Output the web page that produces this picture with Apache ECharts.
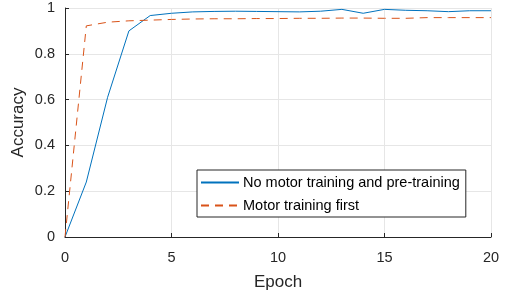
<!DOCTYPE html>
<html>
<head>
<meta charset="utf-8">
<script src="https://cdn.jsdelivr.net/npm/echarts@6/dist/echarts.min.js"></script>
<style>
  html, body { margin: 0; padding: 0; background: #fff; }
  #chart { width: 508px; height: 297px; }
</style>
</head>
<body>
<div id="chart"></div>
<script>
const epochs = [0, 1, 2, 3, 4, 5, 6, 7, 8, 9, 10, 11, 12, 13, 14, 15, 16, 17, 18, 19, 20];
const noMotor = [0, 0.24, 0.61, 0.90, 0.967, 0.977, 0.983, 0.985, 0.986, 0.985, 0.984, 0.983, 0.986, 0.994, 0.977, 0.994, 0.99, 0.988, 0.984, 0.988, 0.988];
const motorFirst = [0, 0.922, 0.938, 0.944, 0.947, 0.95, 0.952, 0.953, 0.953, 0.954, 0.954, 0.955, 0.955, 0.956, 0.956, 0.955, 0.955, 0.958, 0.958, 0.958, 0.958];
const xTicks = [0, 5, 10, 15, 20];
const yTicks = [0, 0.2, 0.4, 0.6, 0.8, 1];

const chart = echarts.init(document.getElementById('chart'));
const font = 'Liberation Sans, Arial, sans-serif';

chart.setOption({
  animation: false,
  grid: { left: 65, right: 17, top: 8, bottom: 60 },
  xAxis: {
    type: 'value', min: 0, max: 20, interval: 5,
    name: 'Epoch', nameLocation: 'middle', nameGap: 37,
    nameTextStyle: { color: '#262626', fontSize: 17, fontFamily: font },
    axisLine: { show: true, onZero: false, lineStyle: { color: '#262626', width: 1 } },
    axisTick: { show: true, inside: true, length: 4, lineStyle: { color: '#262626' } },
    axisLabel: { color: '#262626', fontSize: 14.5, fontFamily: font, margin: 13,
      formatter: v => xTicks.includes(v) ? String(v) : '' },
    splitLine: { show: true, lineStyle: { color: '#e6e6e6', width: 1 } }
  },
  yAxis: {
    type: 'value', min: 0, max: 1, interval: 0.2,
    name: 'Accuracy', nameLocation: 'middle', nameGap: 38, nameMoveOverlap: false,
    nameTextStyle: { color: '#262626', fontSize: 17, fontFamily: font },
    axisLine: { show: true, lineStyle: { color: '#262626', width: 1 } },
    axisTick: { show: true, inside: true, length: 4, lineStyle: { color: '#262626' } },
    axisLabel: { color: '#262626', fontSize: 14.5, fontFamily: font, margin: 10,
      formatter: v => {
        const t = yTicks.find(y => Math.abs(y - v) < 1e-6);
        return t === undefined ? '' : String(t);
      } },
    splitLine: { show: true, lineStyle: { color: '#e6e6e6', width: 1 } }
  },
  legend: {
    orient: 'vertical', left: 197, top: 170,
    padding: [5, 6, 4, 3],
    itemGap: 8,
    itemWidth: 38, itemHeight: 14,
    itemStyle: { opacity: 0 },
    backgroundColor: '#fff',
    borderColor: '#262626', borderWidth: 1, borderRadius: 0,
    textStyle: { color: '#000', fontSize: 14.5, fontFamily: font, padding: [0, 0, 0, -1] },
    data: ['No motor training and pre-training', 'Motor training first']
  },
  series: [
    {
      name: 'No motor training and pre-training', type: 'line',
      data: epochs.map((e, i) => [e, noMotor[i]]),
      symbol: 'none', color: '#0072BD',
      lineStyle: { color: '#0072BD', width: 1 }
    },
    {
      name: 'Motor training first', type: 'line',
      data: epochs.map((e, i) => [e, motorFirst[i]]),
      symbol: 'none', color: '#D95319',
      lineStyle: { color: '#D95319', width: 1, type: [8, 6] }
    }
  ]
});
</script>
</body>
</html>
